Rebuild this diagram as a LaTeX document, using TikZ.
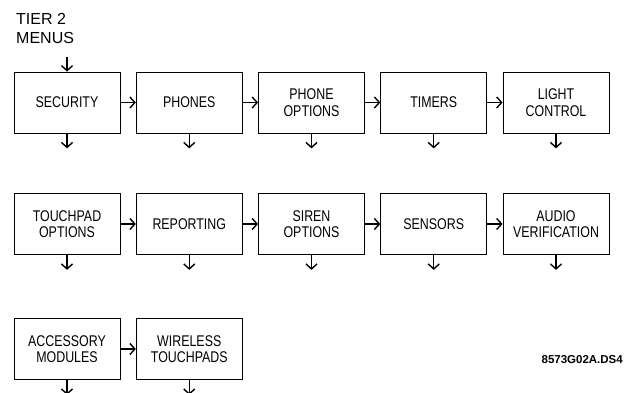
\documentclass[tikz,border=0pt]{standalone}
\usepackage{fontspec}
\setmainfont{Liberation Sans}
\newfontfamily\menufont[FakeStretch=0.8]{Liberation Sans}
\usetikzlibrary{arrows.meta}

\tikzset{
  menubox/.style={draw, line width=0.8pt, minimum width=106pt, minimum height=61pt,
    inner sep=0pt, align=center, font=\menufont\fontsize{15.5}{16.5}\selectfont},
  menuarrow/.style={line width=1.4pt, -{Straight Barb[length=5pt,width=11pt]}}
}

\begin{document}
\begin{tikzpicture}[x=1pt,y=-1pt]
    \useasboundingbox (0,0) rectangle (628,392);
    % Heading
    \node[anchor=north west, inner sep=0pt, align=left,
      font=\fontsize{16}{18.7}\selectfont] (heading) at (16,13) {TIER 2\\MENUS};
    % First row
    \node[menubox] (security) at (67,102.5) {SECURITY};
    \node[menubox] (phones) at (189.25,102.5) {PHONES};
    \node[menubox] (phoneopt) at (311.5,102.5) {PHONE\\OPTIONS};
    \node[menubox] (timers) at (433.75,102.5) {TIMERS};
    \node[menubox] (light) at (556,102.5) {LIGHT\\CONTROL};
    % Second row
    \node[menubox] (touchopt) at (67,224) {TOUCHPAD\\OPTIONS};
    \node[menubox] (reporting) at (189.25,224) {REPORTING};
    \node[menubox] (sirenopt) at (311.5,224) {SIREN\\OPTIONS};
    \node[menubox] (sensors) at (433.75,224) {SENSORS};
    \node[menubox] (audio) at (556,224) {AUDIO\\VERIFICATION};
    % Third row
    \node[menubox] (accessory) at (67,349) {ACCESSORY\\MODULES};
    \node[menubox] (wireless) at (189.25,349) {WIRELESS\\TOUCHPADS};
    % Drawing number
    \node[anchor=base east, inner sep=0pt, font=\bfseries\fontsize{11.5}{13}\selectfont]
      (dwgno) at (623,363) {8573G02A.DS4};
    % Entry into the first menu
    \coordinate (entry) at (67,57);
    \draw[menuarrow] (entry) -- (security.north);
    % Arrows along each row
    \draw[menuarrow] (security) -- (phones);
    \draw[menuarrow] (phones) -- (phoneopt);
    \draw[menuarrow] (phoneopt) -- (timers);
    \draw[menuarrow] (timers) -- (light);
    \draw[menuarrow] (touchopt) -- (reporting);
    \draw[menuarrow] (reporting) -- (sirenopt);
    \draw[menuarrow] (sirenopt) -- (sensors);
    \draw[menuarrow] (sensors) -- (audio);
    \draw[menuarrow] (accessory) -- (wireless);
    % Arrows out of every menu
    \foreach \n in {security,phones,phoneopt,timers,light,
                    touchopt,reporting,sirenopt,sensors,audio,accessory,wireless}
      \draw[menuarrow] (\n.south) -- ++(0,15);
\end{tikzpicture}
\end{document}
